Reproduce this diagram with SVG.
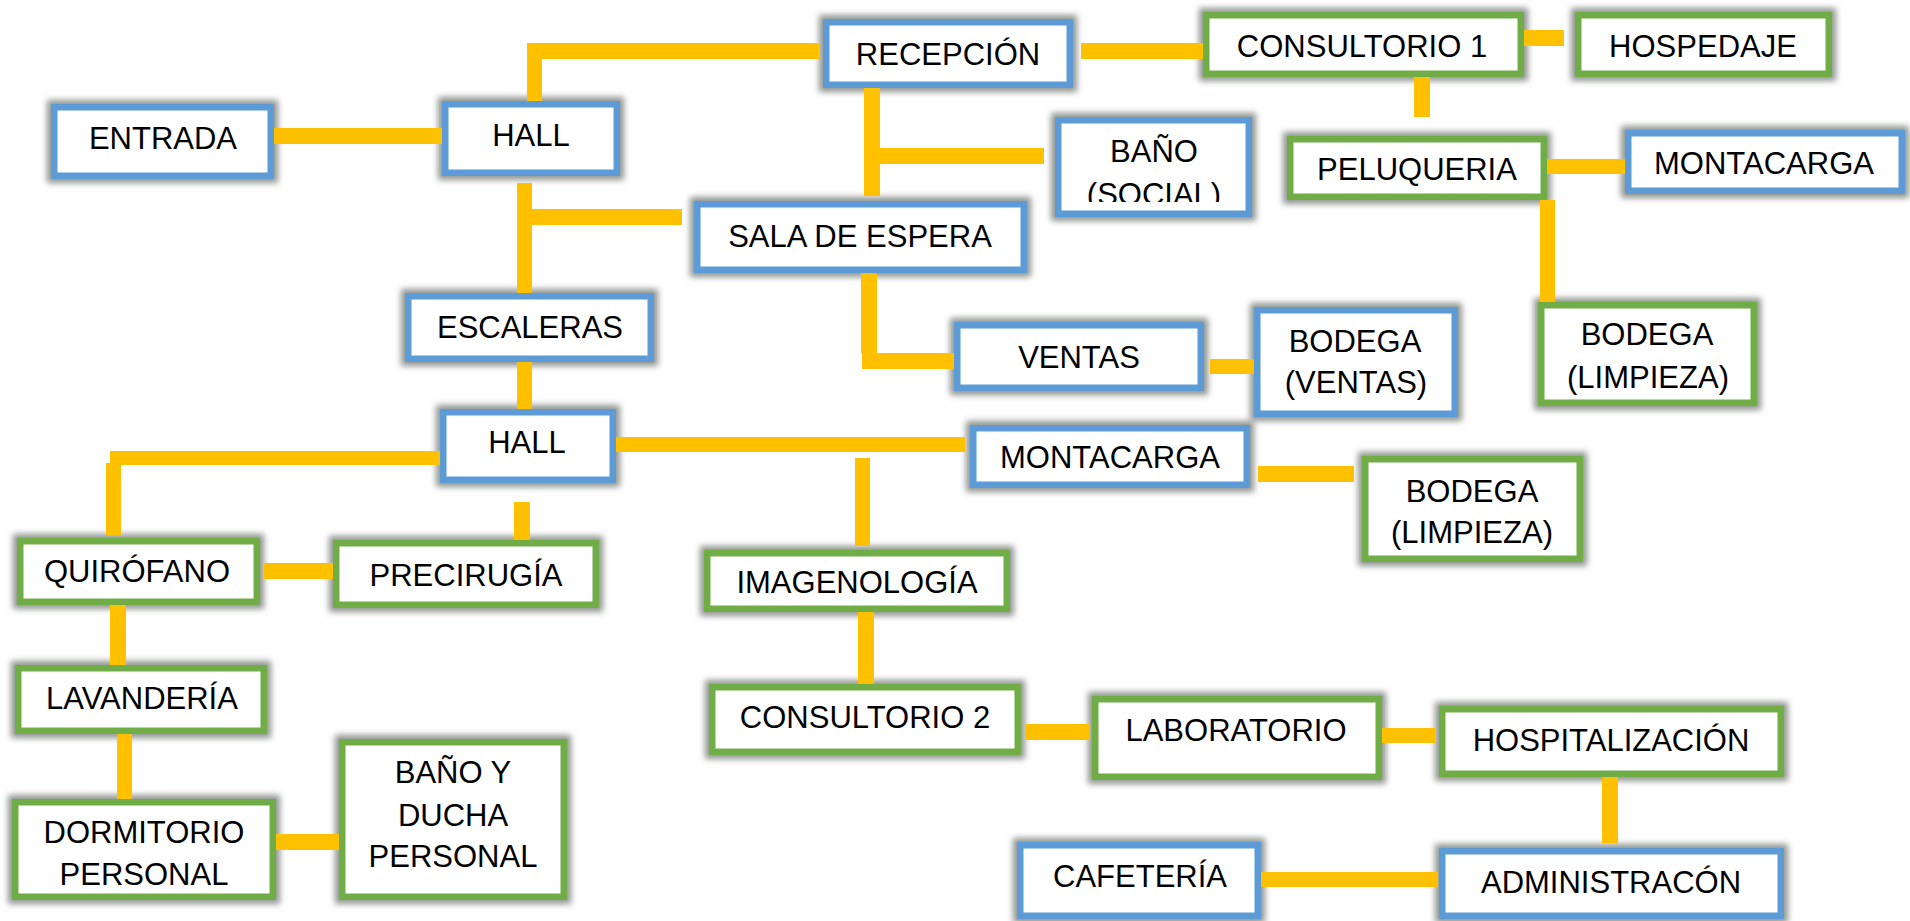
<svg xmlns="http://www.w3.org/2000/svg" width="1910" height="921" viewBox="0 0 1910 921">
<defs>
<style>
.b{fill:#fff;stroke:#5B9BD5;stroke-width:6.5;filter:url(#glow)}
.g{fill:#fff;stroke:#70AD47;stroke-width:6.5;filter:url(#glow)}
.t{font-family:"Liberation Sans",Arial,sans-serif;font-size:31px;fill:#000;text-anchor:middle}
.c{fill:#FFC000}
</style>
<filter id="glow" x="-20%" y="-40%" width="140%" height="180%">
<feMorphology in="SourceAlpha" operator="dilate" radius="3.5" result="d"/>
<feGaussianBlur in="d" stdDeviation="3" result="bl"/>
<feFlood flood-color="#7c827c" flood-opacity="0.85"/>
<feComposite in2="bl" operator="in" result="s"/>
<feMerge><feMergeNode in="s"/><feMergeNode in="SourceGraphic"/></feMerge>
</filter>
<clipPath id="clipBano"><rect x="1058" y="120" width="191" height="82"/></clipPath>
</defs>
<rect width="1910" height="921" fill="#fff"/>
<g id="nodes">
<g id="entrada"><rect class="b" x="54.25" y="107.25" width="216.5" height="68.5"/><text class="t" x="163" y="149">ENTRADA</text></g>
<g id="hall1"><rect class="b" x="445.25" y="104.25" width="171.5" height="68.5"/><text class="t" x="531" y="146">HALL</text></g>
<g id="recepcion"><rect class="b" x="826.25" y="22.25" width="243.5" height="62.5"/><text class="t" x="948" y="65">RECEPCIÓN</text></g>
<g id="consultorio1"><rect class="g" x="1206.25" y="15.25" width="314.5" height="58.5"/><text class="t" x="1362" y="57">CONSULTORIO 1</text></g>
<g id="hospedaje"><rect class="g" x="1578.25" y="15.25" width="250.5" height="58.5"/><text class="t" x="1703" y="57">HOSPEDAJE</text></g>
<g id="bano-social"><rect class="b" x="1058.25" y="120.25" width="190.5" height="93.5"/><g clip-path="url(#clipBano)"><text class="t" x="1154" y="162">BAÑO</text><text class="t" x="1154" y="205">(SOCIAL)</text></g></g>
<g id="peluqueria"><rect class="g" x="1290.25" y="139.25" width="253.5" height="57.5"/><text class="t" x="1417" y="180">PELUQUERIA</text></g>
<g id="montacarga1"><rect class="b" x="1628.25" y="133.25" width="273.5" height="57.5"/><text class="t" x="1764" y="174">MONTACARGA</text></g>
<g id="sala-espera"><rect class="b" x="697.25" y="204.25" width="326.5" height="65.5"/><text class="t" x="860" y="247">SALA DE ESPERA</text></g>
<g id="escaleras"><rect class="b" x="408.25" y="296.25" width="242.5" height="62.5"/><text class="t" x="530" y="338">ESCALERAS</text></g>
<g id="ventas"><rect class="b" x="957.25" y="325.25" width="243.5" height="62.5"/><text class="t" x="1079" y="368">VENTAS</text></g>
<g id="bodega-ventas"><rect class="b" x="1257.25" y="310.25" width="197.5" height="103.5"/><text class="t" x="1355" y="352">BODEGA</text><text class="t" x="1356" y="393">(VENTAS)</text></g>
<g id="bodega-limpieza1"><rect class="g" x="1541.25" y="305.25" width="212.5" height="97.5"/><text class="t" x="1647" y="345">BODEGA</text><text class="t" x="1648" y="388">(LIMPIEZA)</text></g>
<g id="hall2"><rect class="b" x="443.25" y="412.25" width="169.5" height="67.5"/><text class="t" x="527" y="453">HALL</text></g>
<g id="montacarga2"><rect class="b" x="973.25" y="428.25" width="273.5" height="56.5"/><text class="t" x="1110" y="468">MONTACARGA</text></g>
<g id="bodega-limpieza2"><rect class="g" x="1365.25" y="459.25" width="214.5" height="99.5"/><text class="t" x="1472" y="502">BODEGA</text><text class="t" x="1472" y="543">(LIMPIEZA)</text></g>
<g id="quirofano"><rect class="g" x="20.25" y="541.25" width="236.5" height="60.5"/><text class="t" x="137" y="582">QUIRÓFANO</text></g>
<g id="precirugia"><rect class="g" x="336.25" y="543.25" width="259.5" height="61.5"/><text class="t" x="466" y="586">PRECIRUGÍA</text></g>
<g id="imagenologia"><rect class="g" x="707.25" y="553.25" width="299.5" height="55.5"/><text class="t" x="857" y="593">IMAGENOLOGÍA</text></g>
<g id="lavanderia"><rect class="g" x="18.25" y="668.25" width="245.5" height="62.5"/><text class="t" x="142" y="709">LAVANDERÍA</text></g>
<g id="consultorio2"><rect class="g" x="712.25" y="687.25" width="305.5" height="64.5"/><text class="t" x="865" y="728">CONSULTORIO 2</text></g>
<g id="laboratorio"><rect class="g" x="1095.25" y="699.25" width="283.5" height="77.5"/><text class="t" x="1236" y="741">LABORATORIO</text></g>
<g id="hospitalizacion"><rect class="g" x="1442.25" y="709.25" width="338.5" height="64.5"/><text class="t" x="1611" y="751">HOSPITALIZACIÓN</text></g>
<g id="dormitorio"><rect class="g" x="15.25" y="802.25" width="257.5" height="94.5"/><text class="t" x="144" y="843">DORMITORIO</text><text class="t" x="144" y="885">PERSONAL</text></g>
<g id="bano-ducha"><rect class="g" x="342.25" y="742.25" width="221.5" height="154.5"/><text class="t" x="453" y="783">BAÑO Y</text><text class="t" x="453" y="826">DUCHA</text><text class="t" x="453" y="867">PERSONAL</text></g>
<g id="cafeteria"><rect class="b" x="1020.25" y="845.25" width="237.5" height="70.5"/><text class="t" x="1140" y="887">CAFETERÍA</text></g>
<g id="administracion"><rect class="b" x="1442.25" y="851.25" width="338.5" height="64.5"/><text class="t" x="1611" y="893">ADMINISTRACÓN</text></g>
</g>
<g id="connectors">
<rect class="c" x="274" y="128" width="168" height="16"/>
<rect class="c" x="527" y="43" width="15" height="58"/>
<rect class="c" x="527" y="43" width="293" height="16"/>
<rect class="c" x="1081" y="43" width="122" height="16"/>
<rect class="c" x="1524" y="30" width="40" height="16"/>
<rect class="c" x="1414" y="77" width="16" height="40"/>
<rect class="c" x="864" y="88" width="16" height="108"/>
<rect class="c" x="880" y="148" width="164" height="16"/>
<rect class="c" x="517" y="183" width="15" height="110"/>
<rect class="c" x="532" y="209" width="150" height="16"/>
<rect class="c" x="1547" y="159" width="78" height="15"/>
<rect class="c" x="1540" y="200" width="15" height="102"/>
<rect class="c" x="861" y="273" width="16" height="80"/>
<rect class="c" x="862" y="353" width="92" height="16"/>
<rect class="c" x="1210" y="359" width="44" height="15"/>
<rect class="c" x="517" y="362" width="15" height="47"/>
<rect class="c" x="110" y="451" width="330" height="14"/>
<rect class="c" x="106" y="463" width="15" height="72"/>
<rect class="c" x="616" y="437" width="349" height="15"/>
<rect class="c" x="855" y="458" width="15" height="88"/>
<rect class="c" x="514" y="502" width="16" height="38"/>
<rect class="c" x="264" y="563" width="69" height="16"/>
<rect class="c" x="110" y="605" width="16" height="60"/>
<rect class="c" x="117" y="734" width="15" height="65"/>
<rect class="c" x="276" y="834" width="63" height="16"/>
<rect class="c" x="1258" y="466" width="96" height="16"/>
<rect class="c" x="858" y="612" width="16" height="72"/>
<rect class="c" x="1025" y="724" width="65" height="16"/>
<rect class="c" x="1382" y="728" width="54" height="15"/>
<rect class="c" x="1602" y="777" width="16" height="66"/>
<rect class="c" x="1261" y="872" width="177" height="15"/>
</g>
</svg>
